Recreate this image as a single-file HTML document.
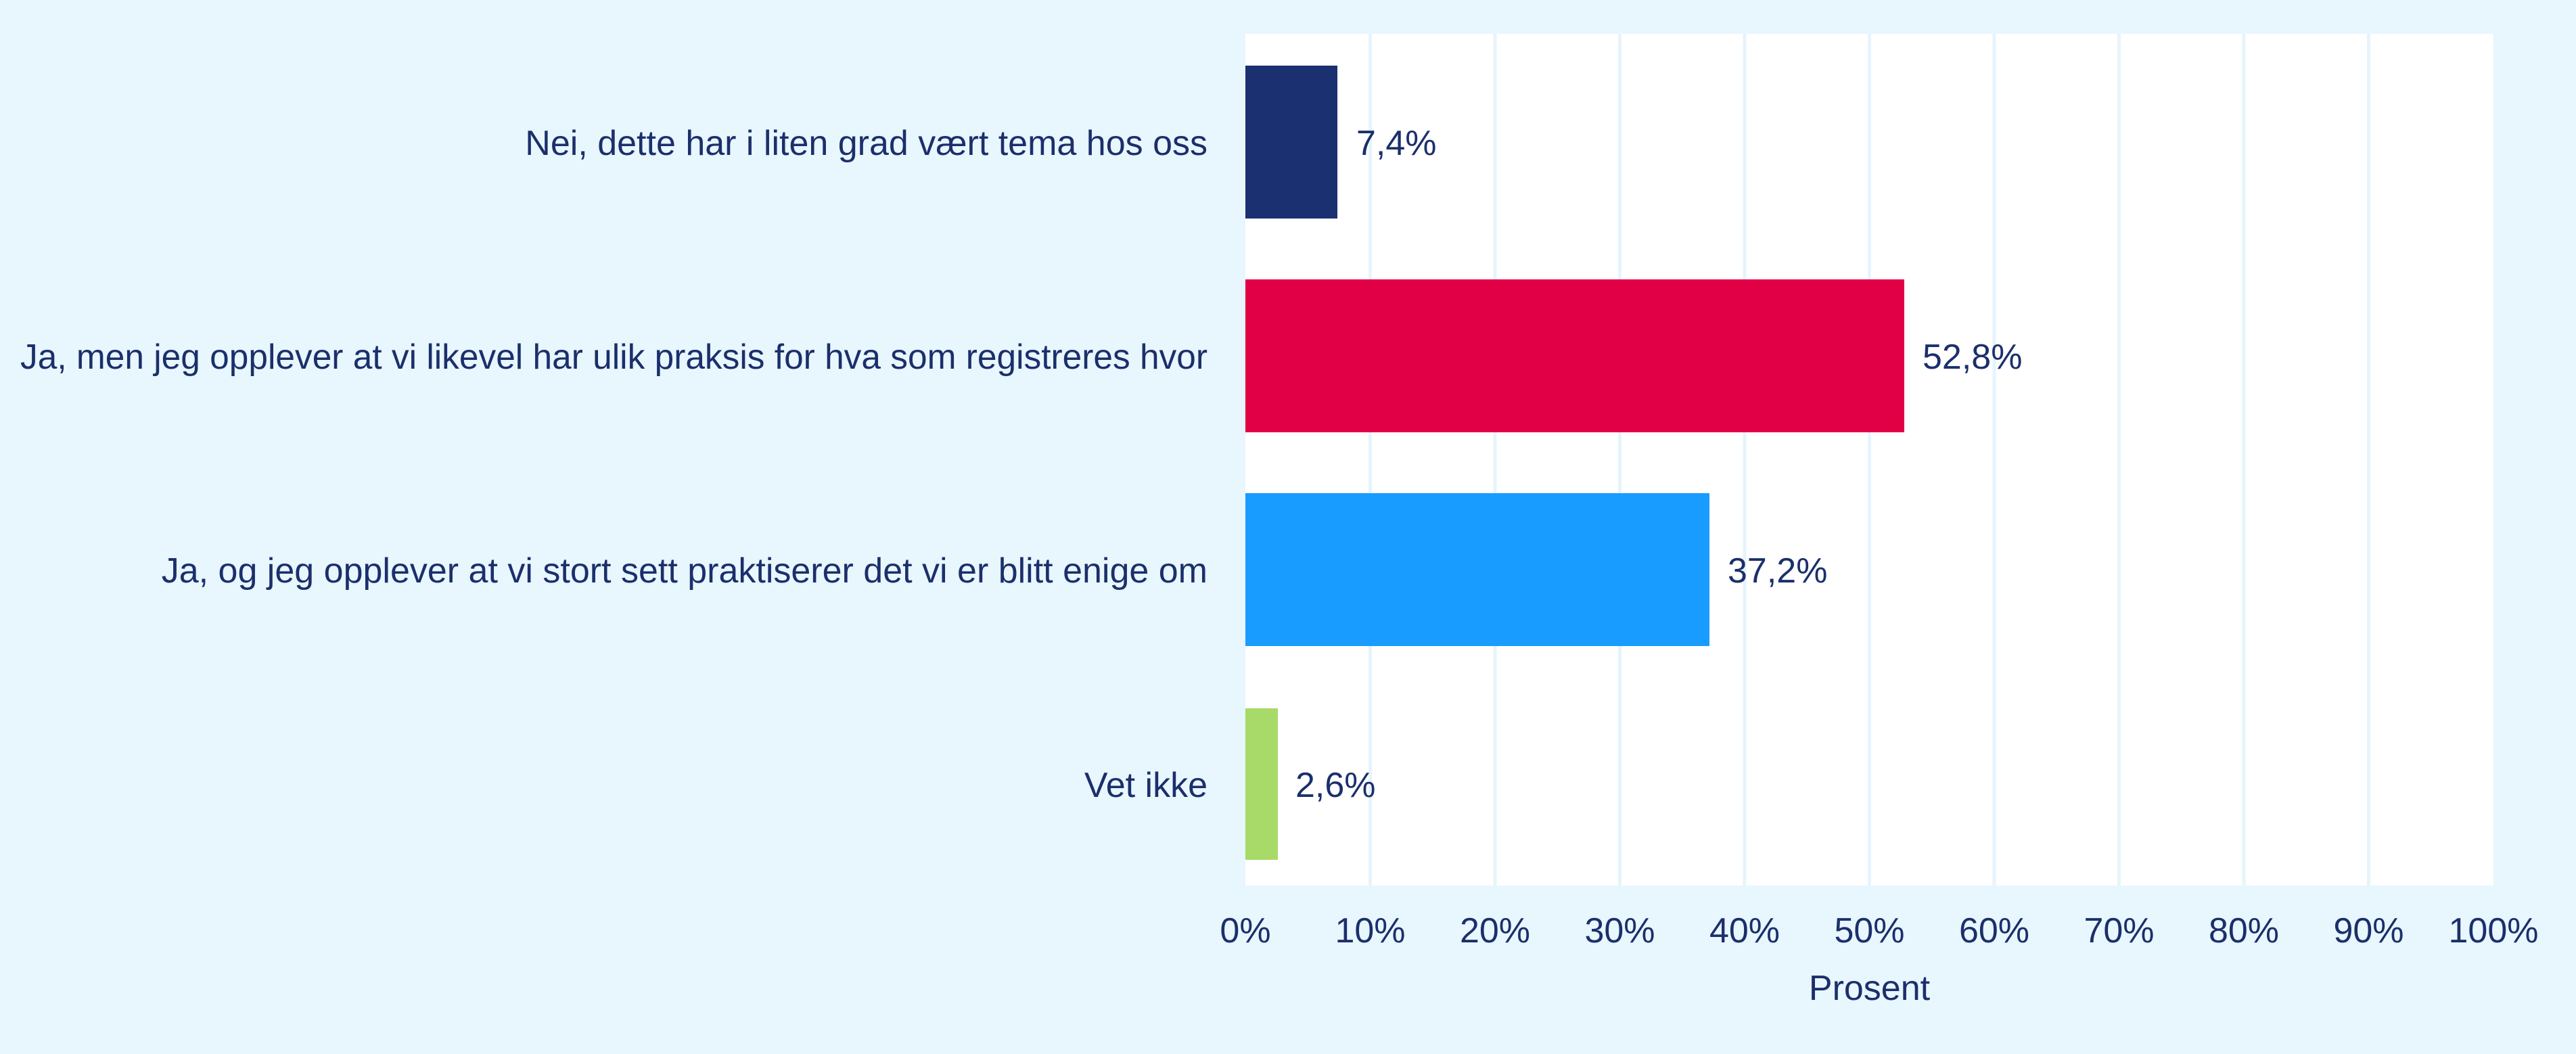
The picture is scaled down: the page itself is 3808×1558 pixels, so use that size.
<!DOCTYPE html>
<html><head><meta charset="utf-8"><style>
html,body{margin:0;padding:0;background:#e8f6fe;}
svg{display:block;}
text{font-family:"Liberation Sans",sans-serif;fill:#1b2f6b;font-size:52px;}
</style></head><body>
<svg width="3808" height="1558" viewBox="0 0 3808 1558">
<rect x="0" y="0" width="3808" height="1558" fill="#e8f6fe"/>
<rect x="1841" y="50" width="1845" height="1259" fill="#ffffff"/>
<g stroke="#e6f4fd" stroke-width="5">
<line x1="2025.5" y1="50" x2="2025.5" y2="1309"/>
<line x1="2210" y1="50" x2="2210" y2="1309"/>
<line x1="2394.5" y1="50" x2="2394.5" y2="1309"/>
<line x1="2579" y1="50" x2="2579" y2="1309"/>
<line x1="2763.5" y1="50" x2="2763.5" y2="1309"/>
<line x1="2948" y1="50" x2="2948" y2="1309"/>
<line x1="3132.5" y1="50" x2="3132.5" y2="1309"/>
<line x1="3317" y1="50" x2="3317" y2="1309"/>
<line x1="3501.5" y1="50" x2="3501.5" y2="1309"/>
</g>
<rect x="1841" y="97" width="136" height="226" fill="#1a3070"/>
<rect x="1841" y="413" width="974" height="226" fill="#e10046"/>
<rect x="1841" y="729" width="686" height="226" fill="#189cff"/>
<rect x="1841" y="1047" width="48" height="224" fill="#a8da6a"/>
<g text-anchor="end">
<text x="1785" y="229">Nei, dette har i liten grad vært tema hos oss</text>
<text x="1785" y="545" textLength="1755" lengthAdjust="spacingAndGlyphs">Ja, men jeg opplever at vi likevel har ulik praksis for hva som registreres hvor</text>
<text x="1785" y="861">Ja, og jeg opplever at vi stort sett praktiserer det vi er blitt enige om</text>
<text x="1785" y="1178">Vet ikke</text>
</g>
<text x="2005" y="229">7,4%</text>
<text x="2842" y="545">52,8%</text>
<text x="2554" y="861">37,2%</text>
<text x="1915" y="1178">2,6%</text>
<g text-anchor="middle">
<text x="1841" y="1393">0%</text>
<text x="2025.5" y="1393">10%</text>
<text x="2210" y="1393">20%</text>
<text x="2394.5" y="1393">30%</text>
<text x="2579" y="1393">40%</text>
<text x="2763.5" y="1393">50%</text>
<text x="2948" y="1393">60%</text>
<text x="3132.5" y="1393">70%</text>
<text x="3317" y="1393">80%</text>
<text x="3501.5" y="1393">90%</text>
<text x="3686" y="1393">100%</text>
<text x="2763.5" y="1478">Prosent</text>
</g>
</svg>
</body></html>
